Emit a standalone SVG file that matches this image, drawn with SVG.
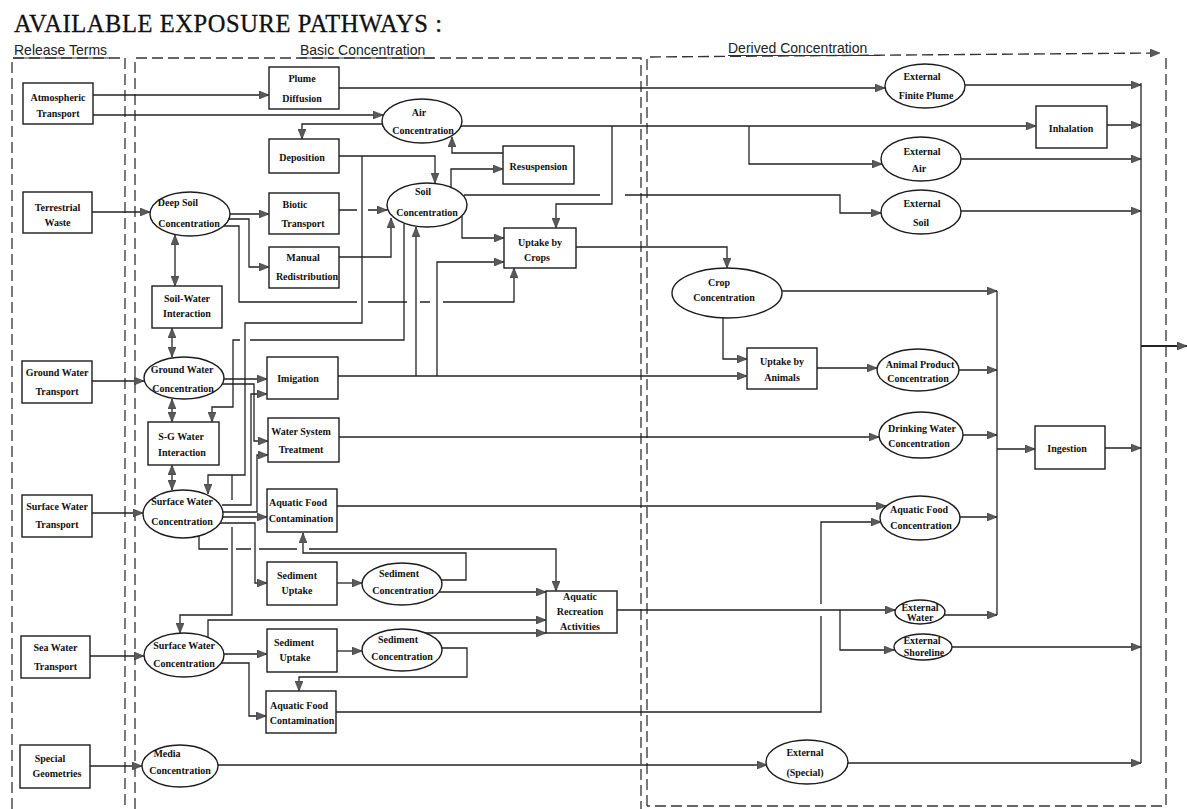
<svg xmlns="http://www.w3.org/2000/svg" width="1187" height="809" viewBox="0 0 1187 809">
<defs>
<style>
.n rect,.n ellipse{fill:#fff;stroke:#1c1c1c;stroke-width:1.4}
.n text{font-family:"Liberation Serif","Times New Roman",serif;font-weight:bold;font-size:10px;fill:#111;text-anchor:middle}
.c path{fill:none;stroke:#222;stroke-width:1.3}
.c .a{marker-end:url(#ah)}
.c .b{marker-start:url(#ah);marker-end:url(#ah)}
.d{fill:none;stroke:#333;stroke-width:1.3;stroke-dasharray:11 5}
.u{fill:none;stroke:#333;stroke-width:1.2}
.h{font-family:"Liberation Sans",Arial,sans-serif;font-size:14px;fill:#222}
.title{font-family:"Liberation Serif","Times New Roman",serif;font-size:24.5px;fill:#111;stroke:#111;stroke-width:0.3}
</style>
<marker id="ah" viewBox="0 0 10 8" refX="10" refY="4" markerWidth="10" markerHeight="8" markerUnits="userSpaceOnUse" orient="auto-start-reverse"><path d="M0,0 L10,4 L0,8 z" fill="#5a5a5a" stroke="#333" stroke-width="0.6"/></marker>
<marker id="ahd" viewBox="0 0 10 8" refX="10" refY="4" markerWidth="10" markerHeight="8" markerUnits="userSpaceOnUse" orient="auto"><path d="M0,0 L10,4 L0,8 z" fill="#5a5a5a" stroke="#333" stroke-width="0.6"/></marker>
</defs>
<rect x="0" y="0" width="1187" height="809" fill="#fff"/>

<g id="headers">
<text class="title" x="14" y="31.5" textLength="428">AVAILABLE EXPOSURE PATHWAYS :</text>
<text class="h" x="14" y="55">Release Terms</text>
<text class="h" x="300" y="55">Basic Concentration</text>
<text class="h" x="728" y="52.5">Derived Concentration</text>
<path class="u" d="M13,58 H110 M300,58 H434 M728,55.5 H880"/>
</g>

<g id="frames">
<path class="d" d="M12,809 V58 H125 V809"/>
<path class="d" d="M135,809 V58 H641 V809"/>
<path class="d" d="M647,806 V57 L1160,53" marker-end="url(#ahd)"/>
<path class="d" d="M1166,58 V806 H647"/>
</g>

<g id="nodes" class="n">
<g id="atmospheric-transport"><rect x="23" y="83" width="70" height="41"/><text x="58" y="100.5">Atmospheric</text><text x="58" y="116.5">Transport</text></g>
<g id="terrestrial-waste"><rect x="23" y="192" width="69" height="41"/><text x="57.5" y="210.5">Terrestrial</text><text x="57.5" y="225.5">Waste</text></g>
<g id="ground-water-transport"><rect x="22" y="361" width="70" height="42"/><text x="57" y="375.5">Ground Water</text><text x="57" y="394.5">Transport</text></g>
<g id="surface-water-transport"><rect x="22" y="495" width="70" height="42"/><text x="57" y="509.5">Surface Water</text><text x="57" y="527.5">Transport</text></g>
<g id="sea-water-transport"><rect x="21" y="636" width="69" height="42"/><text x="55.5" y="650.5">Sea Water</text><text x="55.5" y="669.5">Transport</text></g>
<g id="special-geometries"><rect x="20" y="745" width="70" height="43"/><text x="50" y="761.5">Special</text><text x="57" y="776.5">Geometries</text></g>

<g id="plume-diffusion"><rect x="269" y="67" width="70" height="42"/><text x="302" y="81.5">Plume</text><text x="302" y="101.5">Diffusion</text></g>
<g id="air-concentration"><ellipse cx="422" cy="121" rx="40" ry="22"/><text x="419" y="115.5">Air</text><text x="423" y="133.5">Concentration</text></g>
<g id="deposition"><rect x="269" y="139" width="70" height="34"/><text x="302" y="160.5">Deposition</text></g>
<g id="resuspension"><rect x="503" y="146" width="71" height="38"/><text x="538.5" y="169.5">Resuspension</text></g>
<g id="soil-concentration"><ellipse cx="427" cy="205" rx="40" ry="22"/><text x="423" y="194.5">Soil</text><text x="427" y="215.5">Concentration</text></g>
<g id="deep-soil-concentration"><ellipse cx="190" cy="214" rx="40" ry="22"/><text x="178" y="206">Deep Soil</text><text x="189" y="226.5">Concentration</text></g>
<g id="biotic-transport"><rect x="269" y="193" width="70" height="41"/><text x="295" y="207.5">Biotic</text><text x="303" y="226.5">Transport</text></g>
<g id="manual-redistribution"><rect x="269" y="247" width="70" height="41"/><text x="303" y="260.5">Manual</text><text x="307" y="279.5">Redistribution</text></g>
<g id="uptake-by-crops"><rect x="504" y="228" width="72" height="40"/><text x="540" y="245.5">Uptake by</text><text x="537" y="260.5">Crops</text></g>
<g id="soil-water-interaction"><rect x="152" y="286" width="70" height="42"/><text x="187" y="301.5">Soil-Water</text><text x="187" y="316.5">Interaction</text></g>
<g id="ground-water-concentration"><ellipse cx="184" cy="378" rx="40" ry="21"/><text x="182" y="372.5">Ground Water</text><text x="183" y="391.5">Concentration</text></g>
<g id="sg-water-interaction"><rect x="148" y="422" width="71" height="43"/><text x="181" y="439.5">S-G Water</text><text x="182" y="455.5">Interaction</text></g>
<g id="surface-water-concentration"><ellipse cx="183" cy="514" rx="40" ry="24"/><text x="182" y="504.5">Surface Water</text><text x="182" y="524.5">Concentration</text></g>
<g id="irrigation"><rect x="267" y="357" width="71" height="42"/><text x="298" y="381.5">Imigation</text></g>
<g id="water-system-treatment"><rect x="268" y="418" width="71" height="44"/><text x="301" y="434.5">Water System</text><text x="301" y="452.5">Treatment</text></g>
<g id="aquatic-food-contamination-1"><rect x="267" y="489" width="70" height="43"/><text x="298" y="505.5">Aquatic Food</text><text x="301" y="521.5">Contamination</text></g>
<g id="sediment-uptake-1"><rect x="267" y="562" width="70" height="43"/><text x="297" y="578.5">Sediment</text><text x="297" y="593.5">Uptake</text></g>
<g id="sediment-concentration-1"><ellipse cx="402" cy="584" rx="40" ry="21"/><text x="399" y="576.5">Sediment</text><text x="403" y="593.5">Concentration</text></g>
<g id="aquatic-recreation-activities"><rect x="546" y="591" width="71" height="42"/><text x="580" y="599.5">Aquatic</text><text x="580" y="614.5">Recreation</text><text x="580" y="629.5">Activities</text></g>
<g id="surface-water-concentration-2"><ellipse cx="184" cy="655" rx="40" ry="22"/><text x="184" y="648.5">Surface Water</text><text x="184" y="666.5">Concentration</text></g>
<g id="sediment-uptake-2"><rect x="267" y="629" width="70" height="43"/><text x="294" y="645.5">Sediment</text><text x="295" y="660.5">Uptake</text></g>
<g id="sediment-concentration-2"><ellipse cx="402" cy="650" rx="40" ry="21"/><text x="398" y="642.5">Sediment</text><text x="402" y="659.5">Concentration</text></g>
<g id="aquatic-food-contamination-2"><rect x="266" y="691" width="70" height="42"/><text x="299" y="708.5">Aquatic Food</text><text x="302" y="723.5">Contamination</text></g>
<g id="media-concentration"><ellipse cx="180" cy="766" rx="38" ry="21"/><text x="167" y="756.5">Media</text><text x="180" y="773.5">Concentration</text></g>

<g id="crop-concentration"><ellipse cx="727" cy="293" rx="55" ry="25"/><text x="719" y="285.5">Crop</text><text x="724" y="300.5">Concentration</text></g>
<g id="uptake-by-animals"><rect x="747" y="348" width="70" height="41"/><text x="782" y="364.5">Uptake by</text><text x="782" y="380.5">Animals</text></g>
<g id="animal-product-concentration"><ellipse cx="918" cy="370" rx="41" ry="21"/><text x="920" y="367.5">Animal Product</text><text x="918" y="381.5">Concentration</text></g>
<g id="drinking-water-concentration"><ellipse cx="921" cy="435" rx="42" ry="23"/><text x="922" y="431.5">Drinking Water</text><text x="919" y="446.5">Concentration</text></g>
<g id="ingestion"><rect x="1035" y="426" width="70" height="43"/><text x="1067" y="451.5">Ingestion</text></g>
<g id="aquatic-food-concentration"><ellipse cx="920" cy="518" rx="40" ry="22"/><text x="919" y="512.5">Aquatic Food</text><text x="921" y="528.5">Concentration</text></g>
<g id="external-finite-plume"><ellipse cx="925" cy="86" rx="40" ry="22"/><text x="922" y="79.5">External</text><text x="926" y="98.5">Finite Plume</text></g>
<g id="inhalation"><rect x="1036" y="106" width="71" height="42"/><text x="1071" y="131.5">Inhalation</text></g>
<g id="external-air"><ellipse cx="921" cy="159" rx="40" ry="22"/><text x="922" y="154.5">External</text><text x="919" y="171.5">Air</text></g>
<g id="external-soil"><ellipse cx="921" cy="212" rx="40" ry="22"/><text x="922" y="206.5">External</text><text x="921" y="225.5">Soil</text></g>
<g id="external-water"><ellipse cx="920" cy="612" rx="25" ry="12"/><text x="920" y="611">External</text><text x="920" y="620.5">Water</text></g>
<g id="external-shoreline"><ellipse cx="923" cy="647" rx="29" ry="13"/><text x="922" y="644">External</text><text x="924" y="655.5">Shoreline</text></g>
<g id="external-special"><ellipse cx="807" cy="762" rx="41" ry="22"/><text x="805" y="755.5">External</text><text x="805" y="775.5">(Special)</text></g>
</g>

<g id="connectors" class="c">
<path class="a" d="M93,95 H269"/>
<path class="a" d="M93,115 H383"/>
<path class="a" d="M339,88 H885"/>
<path class="a" d="M382,124 H302 V139"/>
<path class="a" d="M461,126 H1036"/>
<path class="a" d="M612,126 V204 H556 V228"/>
<path class="a" d="M749,126 V164 H882"/>
<path class="a" d="M339,156 H435 V183"/>
<path class="a" d="M362,156 V323 H245 V475 H208 V494"/>
<path class="a" d="M232,475 V500 M232,527 V615 H180 V633"/>
<path class="a" d="M503,153 H452 V137"/>
<path class="a" d="M451,188 V169 H503"/>
<path class="a" d="M464,195 H600 M625,195 H840 V213 H881"/>
<path class="a" d="M462,216 V238 H504"/>
<path class="a" d="M576,247 H727 V268"/>
<path class="a" d="M437,376 V262 H504"/>
<path class="a" d="M416,376 V227"/>
<path class="a" d="M338,376 H747"/>
<path class="a" d="M230,214 H269"/>
<path class="a" d="M228,219 H249 V267 H269"/>
<path class="a" d="M224,226 H239 V302 H357 M368,302 H407 M420,302 H430 M443,302 H514 V268"/>
<path class="a" d="M339,210 H357 M368,210 H387"/>
<path class="a" d="M339,257 H391 V218"/>
<path class="a" d="M404,224 V340 H250 M240,340 H233 V407 H212 V422"/>
<path class="a" d="M224,379 H267"/>
<path class="a" d="M222,384 H254 V441 H268"/>
<path class="a" d="M222,505 H251 V394 H267"/>
<path class="a" d="M223,512 H257 V455 H268"/>
<path class="a" d="M223,517 H267"/>
<path class="a" d="M220,523 H255 V583 H267"/>
<path class="a" d="M199,536 V549 H228 M236,549 H251 M259,549 H297 M309,549 H556 V591"/>
<path class="a" d="M337,583 H362"/>
<path class="a" d="M442,580 H466 V553 H303 V533"/>
<path class="a" d="M439,592 H546"/>
<path class="a" d="M337,506 H886"/>
<path class="a" d="M208,637 V620 H546"/>
<path class="a" d="M425,633 H546"/>
<path class="a" d="M224,654 H267"/>
<path class="a" d="M221,663 H249 V716 H266"/>
<path class="a" d="M337,651 H362"/>
<path class="a" d="M441,648 H467 V677 H299 V691"/>
<path class="a" d="M336,712 H821 V616 M821,604 V522 H881"/>
<path class="a" d="M617,610 H895"/>
<path class="a" d="M840,610 V650 H894"/>
<path class="a" d="M944,615 H997"/>
<path class="a" d="M218,765 H767"/>
<path class="a" d="M90,766 H142"/>
<path class="a" d="M90,656 H144"/>
<path class="a" d="M92,513 H143"/>
<path class="a" d="M92,381 H144"/>
<path class="a" d="M92,212 H150"/>
<path class="b" d="M175,235 V286"/>
<path class="b" d="M172,328 V357"/>
<path class="b" d="M172,399 V422"/>
<path class="b" d="M172,465 V490"/>
<path class="a" d="M339,437 H879"/>
<path class="a" d="M782,291 H997"/>
<path class="a" d="M723,318 V359 H747"/>
<path class="a" d="M817,368 H877"/>
<path class="a" d="M959,370 H997"/>
<path class="a" d="M963,435 H997"/>
<path class="a" d="M960,517 H997"/>
<path d="M997,291 V615"/>
<path class="a" d="M997,449 H1035"/>
<path class="a" d="M1105,448 H1141"/>
<path d="M1141,83 V763"/>
<path class="a" d="M965,85 H1141"/>
<path class="a" d="M1107,125 H1141"/>
<path class="a" d="M961,159 H1141"/>
<path class="a" d="M961,211 H1141"/>
<path class="a" d="M952,647 H1141"/>
<path class="a" d="M848,763 H1141"/>
<path class="a" style="stroke-width:2.2" d="M1141,346 H1187"/>
</g>
</svg>
